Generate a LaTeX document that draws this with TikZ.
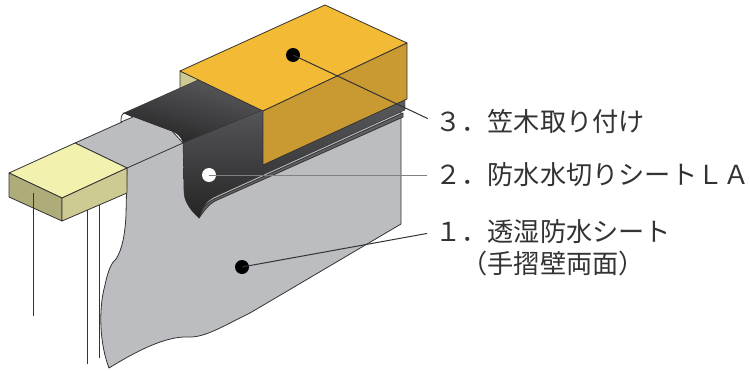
\documentclass[tikz,border=0pt]{standalone}
\usepackage{fontspec}
\newfontfamily\cjk{Noto Sans CJK JP}
\usepackage{tikz}
\usetikzlibrary{positioning,calc}
\definecolor{sheetgrey}{HTML}{BCBDC1}
\definecolor{edgegrey}{HTML}{333333}
\definecolor{capface}{HTML}{F3BB35}
\definecolor{capside}{HTML}{C99A32}
\definecolor{woodtop}{HTML}{F3F1AE}
\definecolor{woodright}{HTML}{CDCA92}
\definecolor{woodleft}{HTML}{AEAC78}
\definecolor{flashhi}{HTML}{5A5B5E}
\definecolor{flashlo}{HTML}{262425}
\tikzset{
face/.style = {draw=edgegrey, line width=0.8pt, line join=round},
post/.style = {draw=edgegrey, line width=1pt},
dotb/.style = {circle, fill=black, inner sep=0pt, minimum size=14pt},
dotw/.style = {circle, fill=white, inner sep=0pt, minimum size=14pt},
leader/.style = {draw=edgegrey, line width=1pt, shorten >=8pt},
callout/.style = {anchor=west, inner sep=0pt, text=black!80, font=\cjk\fontsize{26.2}{27}\selectfont}
}

\begin{document}
\begin{tikzpicture}[x=1pt, y=-1pt]
  \useasboundingbox (0,0) rectangle (750,370);

  % sheet
  \draw [face, fill=sheetgrey] (75,143) -- (122,122) -- (124,113) -- (172,131) -- (183,143) -- (260,112) -- (401,112) -- (401,224)
    -- (250,313) .. controls (225,325) and (205,338) .. (188,337) .. controls (165,336) and (135,352) .. (109,368)
    .. controls (100,345) and (98,310) .. (105,285) .. controls (108,270) and (112,262) .. (116,259)
    .. controls (122,250) and (125,235) .. (126,215) -- (127,168) -- cycle;
  \draw [face] (127,168) -- (183,143);

  % small end of the flashing
  \draw [face, fill=woodright] (180,71) -- (180,90) -- (200,90) -- (200,80) -- cycle;
  \draw [face, fill=white] (124,113) .. controls (121,115) and (121,118) .. (121,122) -- (133,117) -- cycle;

  % flashing
  \draw [face, fill=gray!75!black] (199,218) .. controls (201,210) and (206,203) .. (214,199) -- (403,113) -- (403,117) -- (215,201) .. controls (208,205) and (204,211) .. (199,218) -- cycle;
  \draw [draw=edgegrey, line width=0.4pt, top color=flashhi, bottom color=flashlo, shading angle=-15]
    (124,113) -- (198,80) -- (263,110) -- (183,143) .. controls (181,136) and (178,134) .. (172,131) -- cycle;
  \draw [draw=edgegrey, line width=0.4pt, top color=flashhi, bottom color=flashlo]
    (183,143) -- (263,110) -- (263,165) -- (405,99) -- (405,110) -- (214,197) .. controls (206,201) and (202,208) .. (199,218)
    .. controls (192,212) and (184,202) .. (184,192) -- cycle;

  % coping
  \draw [face, fill=capface] (180,71) -- (325,5) -- (407,43) -- (263,111) -- cycle;
  \draw [face, fill=capside] (263,111) -- (407,43) -- (407,99) -- (263,165) -- cycle;

  % wood
  \draw [face, fill=woodtop] (9,173) -- (75,143) -- (127,168) -- (62,198) -- cycle;
  \draw [face, fill=woodleft] (9,173) -- (62,198) -- (62,221) -- (9,197) -- cycle;
  \draw [face, fill=woodright] (62,198) -- (127,168) -- (127,193) -- (62,221) -- cycle;

  % posts under the wood
  \draw [post] (33,193) -- (33,316);
  \draw [post] (87,210) -- (87,364);
  \draw [post] (99,205) -- (99,358);

  % callouts
  \node [dotb] (dotc) at (293,55) {};
  \node [dotw] (dotb) at (209,175) {};
  \node [dotb] (dota) at (242,267) {};
  \node [callout] (labc) at (435,122) {３．笠木取り付け};
  \node [callout] (labb) at (435,175) {２．防水水切りシートＬＡ};
  \node [callout] (laba) at (435,232) {１．透湿防水シート};
  \node [callout] (labd) at (435,264) {\phantom{１}（手摺壁両面）};

  \draw [leader] (dotc.center) -- (labc.west);
  \draw [leader, draw=gray] (dotb.center) -- (labb.west);
  \draw [leader] (dota.center) -- (laba.west);
\end{tikzpicture}
\end{document}
